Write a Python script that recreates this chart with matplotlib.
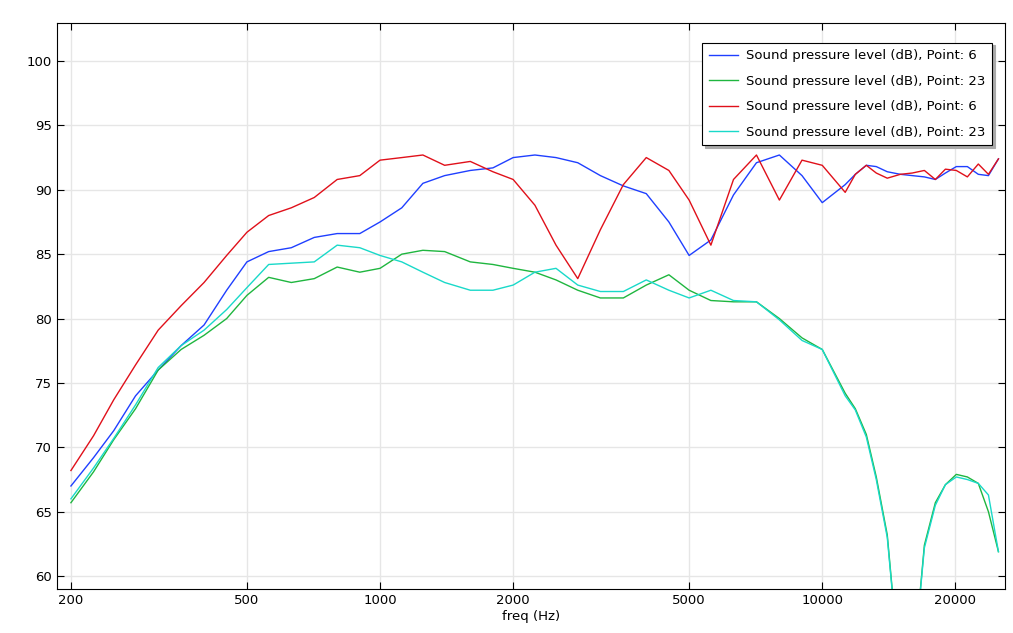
import matplotlib
matplotlib.use("Agg")
import matplotlib.pyplot as plt
from matplotlib.ticker import FixedLocator, NullLocator, NullFormatter

freq = [200, 225, 250, 280, 315, 355, 400, 450, 500, 560, 630, 710, 800, 900, 1000, 1120, 1250, 1400, 1600, 1800,
        2000, 2240, 2500, 2800, 3150, 3550, 4000, 4500, 5000, 5600, 6300, 7100, 8000, 9000, 10000,
        11270, 11880, 12580, 13250, 14030, 15020, 15980, 17020, 18020, 18990, 20100, 21290, 22540, 23760, 25030]

blue6 = [67.0, 69.2, 71.3, 74.0, 76.0, 77.9, 79.5, 82.2, 84.4, 85.2, 85.5, 86.3, 86.6, 86.6, 87.5, 88.6, 90.5, 91.1, 91.5, 91.7,
         92.5, 92.7, 92.5, 92.1, 91.1, 90.3, 89.7, 87.5, 84.9, 86.1, 89.6, 92.1, 92.7, 91.1, 89.0,
         90.4, 91.2, 91.9, 91.8, 91.4, 91.2, 91.1, 91.0, 90.8, 91.3, 91.8, 91.8, 91.2, 91.1, 92.4]
green23 = [65.7, 68.1, 70.6, 73.0, 76.0, 77.6, 78.7, 80.0, 81.8, 83.2, 82.8, 83.1, 84.0, 83.6, 83.9, 85.0, 85.3, 85.2, 84.4, 84.2,
           83.9, 83.6, 83.0, 82.2, 81.6, 81.6, 82.6, 83.4, 82.2, 81.4, 81.3, 81.3, 80.0, 78.5, 77.6,
           74.2, 73.0, 71.0, 67.7, 63.2, 52.0, 52.0, 62.4, 65.7, 67.1, 67.9, 67.7, 67.2, 65.0, 61.9]
red6 = [68.2, 70.9, 73.7, 76.4, 79.1, 81.0, 82.8, 84.9, 86.7, 88.0, 88.6, 89.4, 90.8, 91.1, 92.3, 92.5, 92.7, 91.9, 92.2, 91.4,
        90.8, 88.8, 85.7, 83.1, 86.9, 90.4, 92.5, 91.5, 89.2, 85.7, 90.8, 92.7, 89.2, 92.3, 91.9,
        89.8, 91.2, 91.9, 91.3, 90.9, 91.2, 91.3, 91.5, 90.8, 91.6, 91.5, 91.0, 92.0, 91.2, 92.4]
cyan23 = [66.0, 68.4, 70.7, 73.3, 76.2, 77.9, 79.1, 80.7, 82.4, 84.2, 84.3, 84.4, 85.7, 85.5, 84.9, 84.4, 83.6, 82.8, 82.2, 82.2,
          82.6, 83.6, 83.9, 82.6, 82.1, 82.1, 83.0, 82.2, 81.6, 82.2, 81.4, 81.3, 79.9, 78.3, 77.6,
          74.0, 72.9, 70.8, 67.5, 63.0, 52.0, 52.0, 62.2, 65.5, 67.1, 67.7, 67.5, 67.2, 66.3, 61.9]

labels = ["Sound pressure level (dB), Point: 6", "Sound pressure level (dB), Point: 23",
          "Sound pressure level (dB), Point: 6", "Sound pressure level (dB), Point: 23"]
colors = ["#1f3fff", "#1fb63f", "#e0101a", "#19d9c9"]
xticks = [200, 500, 1000, 2000, 5000, 10000, 20000]
yticks = [60, 65, 70, 75, 80, 85, 90, 95, 100]

fig = plt.figure(figsize=(10.13, 6.33), dpi=100)
ax = fig.add_axes([57/1013, 44/633, (1005-57)/1013, (589-23)/633])
for ys, c, l in zip([blue6, green23, red6, cyan23], colors, labels):
    ax.plot(freq, ys, color=c, lw=1.0, label=l)
ax.set_xscale("log")
ax.set_xlim(186, 25900)
ax.set_ylim(59.0, 102.95)
ax.xaxis.set_major_locator(FixedLocator(xticks))
ax.xaxis.set_minor_locator(NullLocator())
ax.xaxis.set_minor_formatter(NullFormatter())
ax.set_xticklabels([str(x) for x in xticks])
ax.set_yticks(yticks)
ax.grid(True, color="#e6e6e6", lw=1)
ax.tick_params(direction="in", top=True, right=True, labelsize=9.5, length=5)
ax.set_xlabel("freq (Hz)", fontsize=9.5, labelpad=2)
for s in ax.spines.values():
    s.set_linewidth(0.8)
leg = ax.legend(loc="upper right", bbox_to_anchor=(0.993, 0.977), fontsize=9.5, fancybox=False,
                shadow={"color": "#aaaaaa", "alpha": 1}, framealpha=1, edgecolor="black",
                handlelength=2.2, borderpad=0.5, labelspacing=0.95, handletextpad=0.6)
leg.get_frame().set_linewidth(0.8)
fig.savefig("out.png", dpi=100)
